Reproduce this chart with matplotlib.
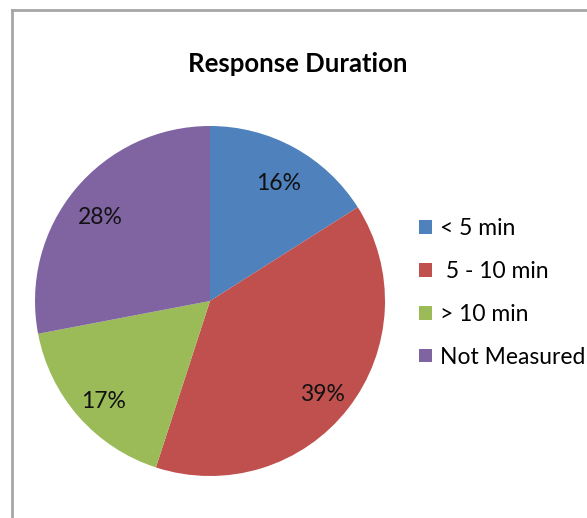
import matplotlib
matplotlib.use("Agg")
import matplotlib.pyplot as plt
from matplotlib.lines import Line2D
from matplotlib.transforms import ScaledTranslation

plt.rcParams['font.family'] = ['Lato', 'DejaVu Sans']

categories = ['< 5 min', ' 5 - 10 min', '> 10 min', 'Not Measured']
shares = [16, 39, 17, 28]
colors = ['#4F81BD', '#C0504D', '#9BBB59', '#8064A2']

W, H = 587, 518
fig = plt.figure(figsize=(W / 100, H / 100), dpi=100)

# chart frame (only left and top edges visible in the crop)
fig.add_artist(Line2D([12 / W, 12 / W], [0, 1 - 10 / H], color='#A6A6A6', lw=2))
fig.add_artist(Line2D([12 / W, 1], [1 - 10 / H, 1 - 10 / H], color='#A6A6A6', lw=2))

# pie centred at (210, 301) px, radius ~175 px
cx, cy, r = 210, 301, 175
ax = fig.add_axes([(cx - r) / W, 1 - (cy + r) / H, 2 * r / W, 2 * r / H])
wedges, _, autotexts = ax.pie(shares, colors=colors, startangle=90, counterclock=False,
                              autopct='%d%%', pctdistance=0.81,
                              textprops={'fontsize': 16.5, 'color': '#111111'})
# Excel sits the data labels a little lower than the geometric spot
for t in autotexts:
    t.set_transform(ax.transData + ScaledTranslation(0, -0.07, fig.dpi_scale_trans))
ax.set_xlim(-1, 1)
ax.set_ylim(-1, 1)
ax.set_aspect('equal')
ax.axis('off')

fig.text(298 / W, 1 - 64 / H, 'Response Duration', ha='center', va='center',
         fontsize=18.5, fontweight='bold')

fig.legend(wedges, categories, loc='center left', bbox_to_anchor=(419 / W, 1 - 293 / H),
           frameon=False, fontsize=16.5, handlelength=0.55, handleheight=0.55,
           handletextpad=0.35, labelspacing=0.95, borderaxespad=0, borderpad=0)

fig.savefig('out.png', dpi=100)
